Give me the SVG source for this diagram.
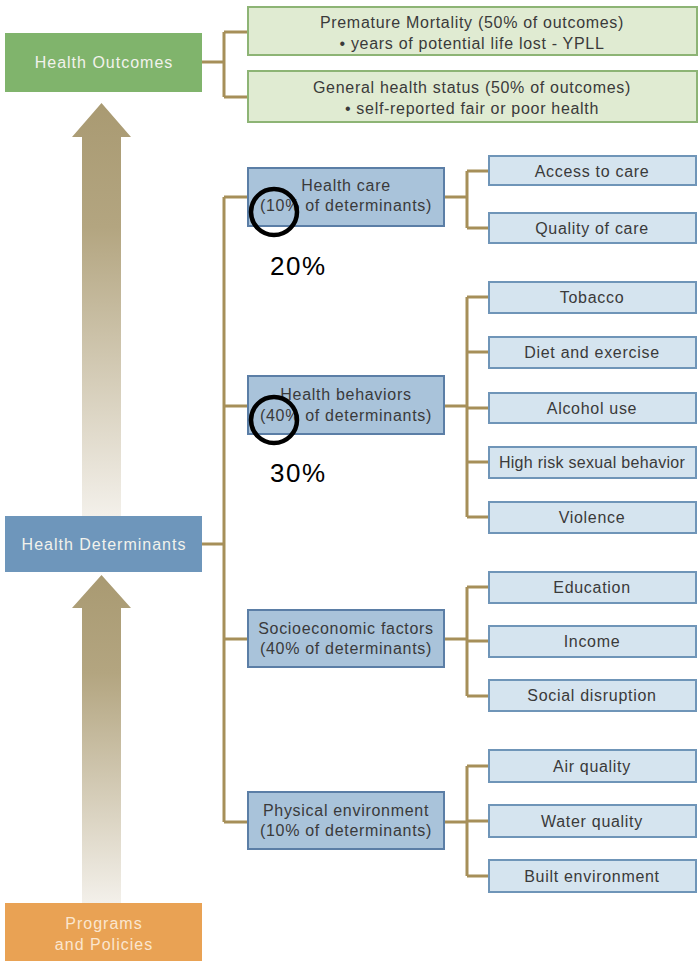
<svg xmlns="http://www.w3.org/2000/svg" width="698" height="961" viewBox="0 0 698 961">
<defs>
<linearGradient id="ga1" x1="0" y1="103" x2="0" y2="516" gradientUnits="userSpaceOnUse">
<stop offset="0" stop-color="#a99a72"/><stop offset="0.3" stop-color="#b3a580"/><stop offset="1" stop-color="#f3f0ea"/>
</linearGradient>
<linearGradient id="ga2" x1="0" y1="575" x2="0" y2="903" gradientUnits="userSpaceOnUse">
<stop offset="0" stop-color="#a99a72"/><stop offset="0.3" stop-color="#b3a580"/><stop offset="1" stop-color="#f3f0ea"/>
</linearGradient>
<style>
text{font-family:"Liberation Sans",Arial,sans-serif;font-size:16px;letter-spacing:0.7px;fill:#3a3a3a;text-anchor:middle}
.main text{fill:#f2f2ec;letter-spacing:1px}
.go rect{fill:#e0ebd2;stroke:#8db475;stroke-width:2}
.mid rect{fill:#a9c3da;stroke:#5b7ea6;stroke-width:2}
.leaf rect{fill:#d5e4ef;stroke:#6f95b8;stroke-width:2}
.conn path{fill:none;stroke:#a68f59;stroke-width:3}
.mark{fill:none;stroke:#000;stroke-width:4.5}
.pct{font-size:26px;fill:#000;letter-spacing:1.5px;text-anchor:start}
</style>
</defs>
<rect width="698" height="961" fill="#fff"/>

<g id="arrows">
<path d="M82,137 L72,137 L101.5,103 L131,137 L121,137 L121,516 L82,516 Z" fill="url(#ga1)"/>
<path d="M82,608 L72,608 L101.5,575 L131,608 L121,608 L121,903 L82,903 Z" fill="url(#ga2)"/>
</g>

<g id="connectors" class="conn">
<path d="M202,62 H224 M224,32 V97 M224,32 H248 M224,97 H248"/>
<path d="M202,544 H224 M224,197 V822 M224,197 H248 M224,406 H248 M224,639 H248 M224,822 H248"/>
<path d="M444,197 H467 M467,171 V228 M467,171 H488 M467,228 H488"/>
<path d="M444,406 H467 M467,297 V517 M467,297 H488 M467,352 H488 M467,408 H488 M467,462 H488 M467,517 H488"/>
<path d="M444,639 H467 M467,587 V696 M467,587 H488 M467,641 H488 M467,696 H488"/>
<path d="M444,822 H467 M467,766 V876 M467,766 H488 M467,821 H488 M467,876 H488"/>
</g>

<g id="health-outcomes" class="main">
<rect x="5" y="33" width="197" height="59" fill="#80b46c"/>
<text x="104" y="68">Health Outcomes</text>
</g>
<g id="health-determinants" class="main">
<rect x="5" y="516" width="197" height="56" fill="#6e96bb"/>
<text x="104" y="550">Health Determinants</text>
</g>
<g id="programs-policies" class="main">
<rect x="5" y="903" width="197" height="58" fill="#e9a254"/>
<text x="104" y="929" style="fill:#fbe6cf">Programs</text>
<text x="104" y="950" style="fill:#fbe6cf">and Policies</text>
</g>

<g id="premature-mortality" class="go">
<rect x="248" y="7" width="449" height="48"/>
<text x="472" y="28">Premature Mortality (50% of outcomes)</text>
<text x="472" y="49">• years of potential life lost - YPLL</text>
</g>
<g id="general-health" class="go">
<rect x="248" y="71" width="449" height="51"/>
<text x="472" y="93">General health status (50% of outcomes)</text>
<text x="472" y="114">• self-reported fair or poor health</text>
</g>

<g id="health-care" class="mid">
<rect x="248" y="168" width="196" height="58"/>
<text x="346" y="191">Health care</text>
<text x="346" y="211">(10% of determinants)</text>
</g>
<g id="health-behaviors" class="mid">
<rect x="248" y="376" width="196" height="58"/>
<text x="346" y="400">Health behaviors</text>
<text x="346" y="421">(40% of determinants)</text>
</g>
<g id="socioeconomic" class="mid">
<rect x="248" y="610" width="196" height="57"/>
<text x="346" y="634">Socioeconomic factors</text>
<text x="346" y="654">(40% of determinants)</text>
</g>
<g id="physical-environment" class="mid">
<rect x="248" y="792" width="196" height="57"/>
<text x="346" y="816">Physical environment</text>
<text x="346" y="836">(10% of determinants)</text>
</g>

<g id="access-to-care" class="leaf"><rect x="489" y="156" width="207" height="29"/><text x="592" y="177">Access to care</text></g>
<g id="quality-of-care" class="leaf"><rect x="489" y="213" width="207" height="30"/><text x="592" y="234">Quality of care</text></g>
<g id="tobacco" class="leaf"><rect x="489" y="282" width="207" height="31"/><text x="592" y="303">Tobacco</text></g>
<g id="diet-exercise" class="leaf"><rect x="489" y="337" width="207" height="31"/><text x="592" y="358">Diet and exercise</text></g>
<g id="alcohol-use" class="leaf"><rect x="489" y="393" width="207" height="30"/><text x="592" y="414">Alcohol use</text></g>
<g id="high-risk" class="leaf"><rect x="489" y="447" width="207" height="31"/><text x="592" y="468" style="letter-spacing:0.3px">High risk sexual behavior</text></g>
<g id="violence" class="leaf"><rect x="489" y="502" width="207" height="31"/><text x="592" y="523">Violence</text></g>
<g id="education" class="leaf"><rect x="489" y="572" width="207" height="31"/><text x="592" y="593">Education</text></g>
<g id="income" class="leaf"><rect x="489" y="626" width="207" height="31"/><text x="592" y="647">Income</text></g>
<g id="social-disruption" class="leaf"><rect x="489" y="680" width="207" height="31"/><text x="592" y="701">Social disruption</text></g>
<g id="air-quality" class="leaf"><rect x="489" y="750" width="207" height="32"/><text x="592" y="772">Air quality</text></g>
<g id="water-quality" class="leaf"><rect x="489" y="805" width="207" height="32"/><text x="592" y="827">Water quality</text></g>
<g id="built-environment" class="leaf"><rect x="489" y="860" width="207" height="32"/><text x="592" y="882">Built environment</text></g>

<g id="annotations">
<circle class="mark" cx="274" cy="212" r="23"/>
<text class="pct" x="270" y="275">20%</text>
<circle class="mark" cx="274" cy="420" r="23"/>
<text class="pct" x="270" y="482">30%</text>
</g>
</svg>
